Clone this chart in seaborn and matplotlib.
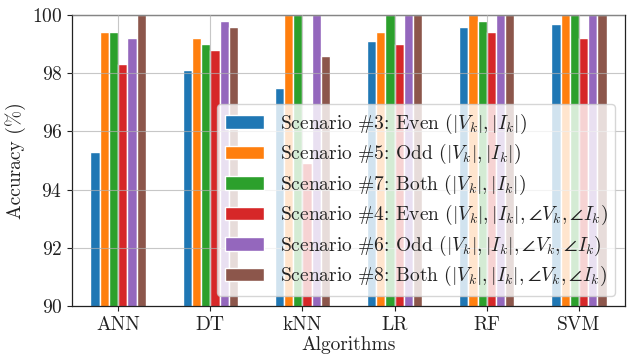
import numpy as np
import pandas as pd
import matplotlib
matplotlib.use("Agg")
import matplotlib.pyplot as plt
import seaborn as sns

algorithms = ["ANN", "DT", "kNN", "LR", "RF", "SVM"]
scenarios = [
    r"Scenario #3: Even $(|V_k|, |I_k|)$",
    r"Scenario #5: Odd $(|V_k|, |I_k|)$",
    r"Scenario #7: Both $(|V_k|, |I_k|)$",
    r"Scenario #4: Even $(|V_k|, |I_k|, \angle V_k, \angle I_k)$",
    r"Scenario #6: Odd $(|V_k|, |I_k|, \angle V_k, \angle I_k)$",
    r"Scenario #8: Both $(|V_k|, |I_k|, \angle V_k, \angle I_k)$",
]
s3 = [95.3, 98.1, 97.5, 99.1, 99.6, 99.7]
s5 = [99.4, 99.2, 100.0, 99.4, 100.0, 100.0]
s7 = [99.4, 99.0, 100.0, 100.0, 99.8, 100.0]
s4 = [98.3, 98.8, 94.9, 99.0, 99.4, 99.2]
s6 = [99.2, 99.8, 100.0, 100.0, 100.0, 100.0]
s8 = [100.0, 99.6, 98.6, 100.0, 100.0, 100.0]
series = [s3, s5, s7, s4, s6, s8]
yticks = [90, 92, 94, 96, 98, 100]

rows = []
for name, vals in zip(scenarios, series):
    for alg, v in zip(algorithms, vals):
        rows.append({"Algorithm": alg, "Scenario": name, "Accuracy": v})
df = pd.DataFrame(rows)

sns.set_style("ticks")
plt.rcParams["font.family"] = ["cmr10"]
plt.rcParams["mathtext.fontset"] = "cm"
plt.rcParams["axes.formatter.use_mathtext"] = True
plt.rcParams["axes.unicode_minus"] = False

colors = ["#1f77b4", "#ff7f0e", "#2ca02c", "#d62728", "#9467bd", "#8c564b"]

fig = plt.figure(figsize=(6.32, 3.54), dpi=100)
ax = fig.add_axes([0.114, 0.1356, 0.875, 0.822])
sns.barplot(data=df, x="Algorithm", y="Accuracy", hue="Scenario",
            order=algorithms, hue_order=scenarios, palette=colors,
            width=0.6, saturation=1.0, ax=ax)
ax.set_ylim(90, 100)
ax.set_yticks(yticks)
ax.set_axisbelow(False)
ax.grid(True, color="#b0b0b0", linewidth=0.8, alpha=0.7)
for s in ax.spines.values():
    s.set_visible(True)
    s.set_color("#222222")
    s.set_linewidth(0.9)
ax.tick_params(labelsize=14, colors="#222222", length=3.5, width=0.8)
ax.set_xlabel("Algorithms", fontsize=14, color="#222222", labelpad=2)
ax.set_ylabel("Accuracy (%)", fontsize=14, color="#222222", labelpad=4)
leg = ax.legend(loc="lower right", fontsize=14, framealpha=0.8,
                edgecolor="#cccccc", fancybox=True, title=None,
                labelspacing=0.33, borderpad=0.4)
for t in leg.get_texts():
    t.set_color("#222222")
fig.savefig("out.png", dpi=100)
